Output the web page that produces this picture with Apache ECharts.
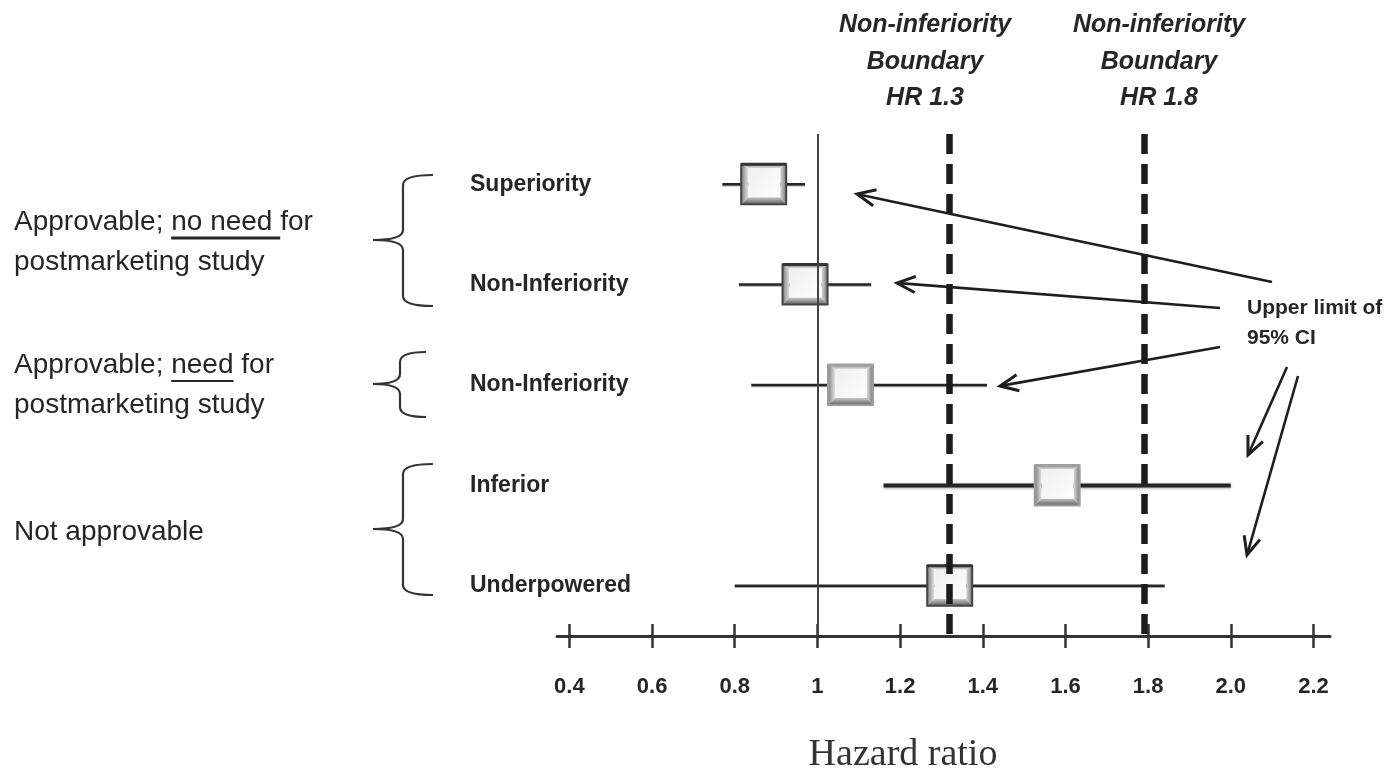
<!DOCTYPE html>
<html>
<head>
<meta charset="utf-8">
<title>Hazard ratio</title>
<script src="https://cdn.jsdelivr.net/npm/echarts@6/dist/echarts.min.js"></script>
<style>
html, body { margin: 0; padding: 0; background: #fff; }
#main { width: 1389px; height: 772px; }
</style>
</head>
<body>
<div id="main"></div>
<script>
var rowNames = ['Superiority', 'Non-Inferiority', 'Non-Inferiority', 'Inferior', 'Underpowered'];
var ciLow = [0.77, 0.81, 0.84, 1.16, 0.80];
var hrPoint = [0.87, 0.97, 1.08, 1.58, 1.32];
var ciHigh = [0.97, 1.13, 1.41, 2.0, 1.84];
var tickValues = [0.4, 0.6, 0.8, 1, 1.2, 1.4, 1.6, 1.8, 2.0, 2.2];
var tickLabels = ['0.4', '0.6', '0.8', '1', '1.2', '1.4', '1.6', '1.8', '2.0', '2.2'];
var refLine = 1;
var boundaries = [1.32, 1.79];
var boundaryTitles = ['Non-inferiority\nBoundary\nHR 1.3', 'Non-inferiority\nBoundary\nHR 1.8'];
var groupTexts = ['Approvable; no need for\npostmarketing study', 'Approvable; need for\npostmarketing study', 'Not approvable'];
var underlined = ['no need ', 'need'];

( function() {
	'use strict';
	var chart = echarts.init( document.getElementById( 'main' ) );
	var sans = '"Liberation Sans", Arial, sans-serif';
	var ink = '#262626';

	function tickLabel( v ) {
		for ( var i = 0; i < tickValues.length; i++ ) {
			if ( Math.abs( tickValues[ i ] - v ) < 1e-6 ) return tickLabels[ i ];
		}
		return '';
	}

	function grad( x2, y2, c0, c1 ) {
		return { type: 'linear', x: 0, y: 0, x2: x2, y2: y2, colorStops: [ { offset: 0, color: c0 }, { offset: 1, color: c1 } ] };
	}

	// one row: CI line + bevelled box
	function renderRow( params, api ) {
		var idx = params.dataIndex;
		var row = api.value( 3 );
		var lo = api.coord( [ api.value( 0 ), row ] );
		var mid = api.coord( [ api.value( 1 ), row ] );
		var hi = api.coord( [ api.value( 2 ), row ] );
		var x0 = mid[ 0 ] - 22.5, x1 = mid[ 0 ] + 22.5, y0 = mid[ 1 ] - 20, y1 = mid[ 1 ] + 20;
		var ix0 = x0 + 7, ix1 = x1 - 6, iy0 = y0 + 4, iy1 = y1 - 7;
		var faded = idx === 2 || idx === 3;
		return {
			type: 'group',
			children: [ {
				type: 'line',
				shape: { x1: lo[ 0 ], y1: lo[ 1 ], x2: hi[ 0 ], y2: hi[ 1 ] },
				style: { stroke: ink, lineWidth: idx === 3 ? 4 : 2.5, shadowBlur: idx === 3 ? 3 : 0, shadowColor: 'rgba(0,0,0,0.35)', shadowOffsetY: 1 }
			}, {
				type: 'polygon',
				shape: { points: [ [ x0, y0 ], [ x1, y0 ], [ ix1, iy0 ], [ ix0, iy0 ] ] },
				style: { fill: grad( 0, 1, '#8a8a8a', '#dedede' ) }
			}, {
				type: 'polygon',
				shape: { points: [ [ x0, y0 ], [ ix0, iy0 ], [ ix0, iy1 ], [ x0, y1 ] ] },
				style: { fill: grad( 1, 0, '#7e7e7e', '#e2e2e2' ) }
			}, {
				type: 'polygon',
				shape: { points: [ [ x1, y0 ], [ x1, y1 ], [ ix1, iy1 ], [ ix1, iy0 ] ] },
				style: { fill: grad( 1, 0, '#d8d8d8', '#7a7a7a' ) }
			}, {
				type: 'polygon',
				shape: { points: [ [ x0, y1 ], [ ix0, iy1 ], [ ix1, iy1 ], [ x1, y1 ] ] },
				style: { fill: grad( 0, 1, '#c8c8c8', '#626262' ) }
			}, {
				type: 'rect',
				shape: { x: ix0, y: iy0, width: ix1 - ix0, height: iy1 - iy0 },
				style: { fill: grad( 1, 1, '#f0f0f0', '#fdfdfd' ) }
			}, {
				type: 'rect',
				shape: { x: x0, y: y0, width: x1 - x0, height: y1 - y0 },
				style: { fill: null, stroke: faded ? '#9c9c9c' : '#444', lineWidth: 2 }
			}, {
				type: 'line',
				shape: { x1: x0, y1: y0, x2: x1, y2: y0 },
				style: { stroke: faded ? '#a0a0a0' : '#333', lineWidth: 3 }
			} ]
		};
	}

	var ciData = [];
	for ( var i = 0; i < rowNames.length; i++ ) {
		ciData.push( [ ciLow[ i ], hrPoint[ i ], ciHigh[ i ], i ] );
	}

	// curly brace, opening to the right, built from curves and lines
	function brace( top, bottom, tip, xv, xEnd, xTip ) {
		var r = 10;
		var st = { fill: null, stroke: '#333', lineWidth: 2.2 };
		return [
			{ type: 'bezierCurve', shape: { x1: xEnd, y1: top, cpx1: xv, cpy1: top, x2: xv, y2: top + r }, style: st },
			{ type: 'line', shape: { x1: xv, y1: top + r, x2: xv, y2: tip - r }, style: st },
			{ type: 'bezierCurve', shape: { x1: xv, y1: tip - r, cpx1: xv, cpy1: tip, x2: xTip, y2: tip }, style: st },
			{ type: 'bezierCurve', shape: { x1: xTip, y1: tip, cpx1: xv, cpy1: tip, x2: xv, y2: tip + r }, style: st },
			{ type: 'line', shape: { x1: xv, y1: tip + r, x2: xv, y2: bottom - r }, style: st },
			{ type: 'bezierCurve', shape: { x1: xv, y1: bottom - r, cpx1: xv, cpy1: bottom, x2: xEnd, y2: bottom }, style: st }
		];
	}

	function arrow( xs, ys, xt, yt ) {
		var len = Math.sqrt( ( xt - xs ) * ( xt - xs ) + ( yt - ys ) * ( yt - ys ) );
		var ux = ( xt - xs ) / len, uy = ( yt - ys ) / len;
		var a = 24 * Math.PI / 180, L = 20;
		var c = Math.cos( a ), s = Math.sin( a );
		var p1 = [ xt - L * ( ux * c - uy * s ), yt - L * ( uy * c + ux * s ) ];
		var p2 = [ xt - L * ( ux * c + uy * s ), yt - L * ( uy * c - ux * s ) ];
		return [ {
			type: 'line',
			shape: { x1: xs, y1: ys, x2: xt - ux * 2, y2: yt - uy * 2 },
			style: { stroke: '#1e1e1e', lineWidth: 2.6 }
		}, {
			type: 'polyline',
			shape: { points: [ p1, [ xt, yt ], p2 ] },
			style: { fill: null, stroke: '#1e1e1e', lineWidth: 3 }
		} ];
	}

	var ctx = document.createElement( 'canvas' ).getContext( '2d' );
	ctx.font = '28px ' + sans;

	var graphics = [];
	var titleX = [ 925, 1159 ];
	for ( var t = 0; t < boundaryTitles.length; t++ ) {
		graphics.push( {
			type: 'text', x: titleX[ t ], y: 7,
			style: { text: boundaryTitles[ t ], font: 'italic bold 25px ' + sans, textAlign: 'center', textVerticalAlign: 'top', lineHeight: 36.5, fill: ink }
		} );
	}
	var groupTop = [ 203, 346, 513 ];
	for ( var g = 0; g < groupTexts.length; g++ ) {
		graphics.push( {
			type: 'text', x: 14, y: groupTop[ g ],
			style: { text: groupTexts[ g ], font: '28px ' + sans, textAlign: 'left', textVerticalAlign: 'top', lineHeight: 39.5, fill: ink }
		} );
	}
	for ( var u = 0; u < underlined.length; u++ ) {
		var first = groupTexts[ u ].split( '\n' )[ 0 ];
		var at = first.indexOf( underlined[ u ] );
		var ux0 = 14 + ctx.measureText( first.slice( 0, at ) ).width;
		var ux1 = 14 + ctx.measureText( first.slice( 0, at + underlined[ u ].length ) ).width;
		var uy = groupTop[ u ] + 35;
		graphics.push( { type: 'line', shape: { x1: ux0, y1: uy, x2: ux1, y2: uy }, style: { stroke: ink, lineWidth: u === 0 ? 3 : 2.2 } } );
	}
	graphics = graphics
		.concat( brace( 175, 306, 240, 403, 433, 373 ) )
		.concat( brace( 352, 417, 384, 400, 426, 373 ) )
		.concat( brace( 464, 595, 529, 403, 433, 373 ) );

	graphics.push( {
		type: 'text', x: 1247, y: 293,
		style: { text: 'Upper limit of\n95% CI', font: 'bold 21px ' + sans, textAlign: 'left', textVerticalAlign: 'top', lineHeight: 30, fill: ink }
	} );
	graphics = graphics
		.concat( arrow( 1272, 282, 857, 194 ) )
		.concat( arrow( 1220, 308, 897, 283 ) )
		.concat( arrow( 1220, 347, 1000, 386 ) )
		.concat( arrow( 1287, 367, 1248, 455 ) )
		.concat( arrow( 1298, 376, 1247, 555 ) );

	graphics.push( {
		type: 'text', x: 903, y: 755,
		style: { text: 'Hazard ratio', font: '38px "Liberation Serif", "Times New Roman", serif', textAlign: 'center', textVerticalAlign: 'middle', fill: '#333' }
	} );

	var option = {
		animation: false,
		backgroundColor: '#fff',
		grid: { left: 557, right: 59, top: 134, bottom: 136, outerBoundsMode: 'none' },
		xAxis: [ {
			type: 'value',
			position: 'bottom',
			min: 0.37,
			max: 2.24,
			splitLine: { show: false },
			axisLine: { show: true, onZero: false, lineStyle: { color: '#333', width: 3 } },
			axisTick: { show: true, inside: false, length: 12, customValues: tickValues, lineStyle: { color: '#333', width: 2.5 } },
			axisLabel: { customValues: tickValues, formatter: tickLabel, margin: 40, fontSize: 22, fontWeight: 'bold', fontFamily: sans, color: ink }
		}, {
			type: 'value',
			position: 'bottom',
			min: 0.37,
			max: 2.24,
			splitLine: { show: false },
			axisLine: { show: false, onZero: false },
			axisTick: { show: true, inside: true, length: 12, customValues: tickValues, lineStyle: { color: '#333', width: 2.5 } },
			axisLabel: { show: false }
		} ],
		yAxis: {
			type: 'category',
			data: rowNames,
			inverse: true,
			axisLine: { show: false },
			axisTick: { show: false },
			splitLine: { show: false },
			axisLabel: { align: 'left', margin: 87, fontSize: 23, fontWeight: 'bold', fontFamily: sans, color: ink }
		},
		series: [ {
			name: 'reference',
			type: 'line',
			data: [],
			z: 1,
			markLine: {
				silent: true,
				symbol: 'none',
				label: { show: false },
				lineStyle: { color: '#444', width: 2, type: 'solid' },
				data: [ { xAxis: refLine } ]
			}
		}, {
			name: 'hr',
			type: 'custom',
			z: 3,
			encode: { x: [ 0, 1, 2 ], y: 3 },
			data: ciData,
			renderItem: renderRow
		}, {
			name: 'boundary',
			type: 'line',
			data: [],
			z: 5,
			markLine: {
				silent: true,
				symbol: 'none',
				label: { show: false },
				lineStyle: { color: '#1c1c1c', width: 6.5, type: [ 20, 10 ] },
				data: boundaries.map( function( v ) { return { xAxis: v }; } )
			}
		} ],
		graphic: { elements: graphics }
	};
	chart.setOption( option );
} )();
</script>
</body>
</html>
